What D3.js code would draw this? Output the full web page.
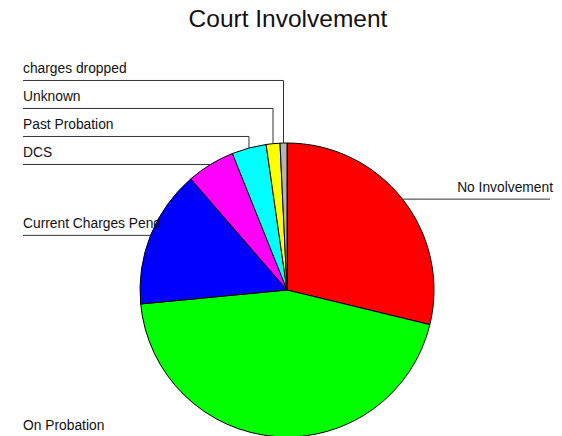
<!DOCTYPE html>
<html>
<head>
<meta charset="utf-8">
<script src="https://cdn.jsdelivr.net/npm/d3@7.9.0/dist/d3.min.js"></script>
<style>
  body { margin: 0; background: #fff; }
  text { font-family: "Liberation Sans", Arial, Helvetica, sans-serif; }
</style>
</head>
<body>
<svg id="chart" width="562" height="436"></svg>
<script>
const categories = ['No Involvement', 'On Probation', 'Current Charges Pend', 'DCS', 'Past Probation', 'Unknown', 'charges dropped'];
const counts = [38, 59, 20, 7, 5, 2, 1];
const sliceColors = ['#ff0000', '#00ff00', '#0000ff', '#ff00ff', '#00ffff', '#ffff00', '#b4b4b4'];

const width = 562, height = 436;
const cx = 287, cy = 290, radius = 147;

const svg = d3.select('#chart');

svg.append('text')
  .attr('x', 288).attr('y', 27)
  .attr('text-anchor', 'middle')
  .attr('font-size', 24.5)
  .attr('fill', '#111')
  .text('Court Involvement');

const data = categories.map((c, i) => ({ label: c, value: counts[i], color: sliceColors[i] }));

const pie = d3.pie().value(d => d.value).sort(null);
const arcs = pie(data);
const arcGen = d3.arc().innerRadius(0).outerRadius(radius);

const g = svg.append('g').attr('transform', `translate(${cx},${cy})`);

g.selectAll('path')
  .data(arcs)
  .join('path')
  .attr('d', arcGen)
  .attr('fill', d => d.data.color)
  .attr('stroke', '#000')
  .attr('stroke-width', 1)
  .attr('stroke-linejoin', 'round');

// label anchor points at slice middles
const labels = arcs.map(a => {
  const mid = (a.startAngle + a.endAngle) / 2;
  return {
    label: a.data.label,
    px: cx + radius * Math.sin(mid),
    py: cy - radius * Math.cos(mid),
    left: mid > Math.PI
  };
});

// push left labels apart, bottom to top
const leftSide = labels.filter(l => l.left).sort((a, b) => b.py - a.py);
let prev = Infinity;
leftSide.forEach(l => {
  l.ly = Math.min(l.py, prev - 28);
  prev = l.ly;
});
labels.filter(l => !l.left).forEach(l => { l.ly = l.py; });

const lineColor = '#333';
const fontSize = 13.8;
labels.forEach(l => {
  if (l.left) {
    svg.append('path')
      .attr('d', d3.line()([[23, l.ly], [l.px, l.ly], [l.px, l.py]]))
      .attr('fill', 'none')
      .attr('stroke', lineColor)
      .attr('stroke-width', 1);
    svg.append('text')
      .attr('x', 23).attr('y', l.ly - 7)
      .attr('font-size', fontSize)
      .attr('fill', '#111')
      .text(l.label);
  } else {
    svg.append('path')
      .attr('d', d3.line()([[l.px, l.ly], [550, l.ly]]))
      .attr('fill', 'none')
      .attr('stroke', lineColor)
      .attr('stroke-width', 1);
    svg.append('text')
      .attr('x', 553).attr('y', l.ly - 7)
      .attr('text-anchor', 'end')
      .attr('font-size', fontSize)
      .attr('fill', '#111')
      .text(l.label);
  }
});
</script>
</body>
</html>
